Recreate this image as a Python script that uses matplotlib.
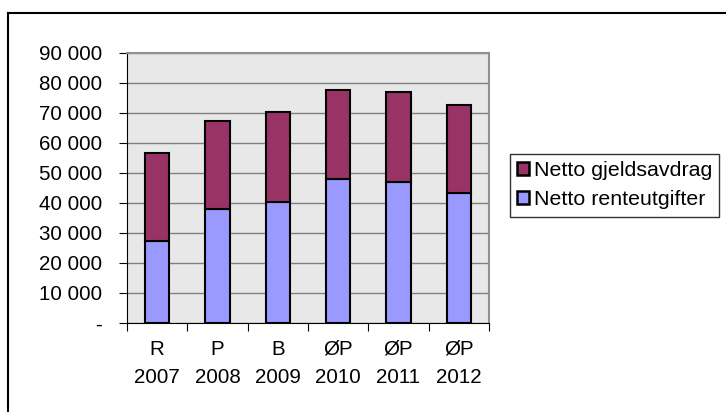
import matplotlib
matplotlib.use("Agg")
import matplotlib.pyplot as plt
from matplotlib.lines import Line2D
import numpy as np

plt.rcParams["font.family"] = ["Liberation Sans", "DejaVu Sans"]

categories = ["R\n2007", "P\n2008", "B\n2009", "ØP\n2010", "ØP\n2011", "ØP\n2012"]
renteutgifter = [27400, 37900, 40400, 47900, 47100, 43200]
gjeldsavdrag = [29300, 29500, 29800, 29700, 30000, 29600]
yticks = [0, 10000, 20000, 30000, 40000, 50000, 60000, 70000, 80000, 90000]
ytick_labels = ["-", "10 000", "20 000", "30 000", "40 000", "50 000",
                "60 000", "70 000", "80 000", "90 000"]

fs = 14.8

fig = plt.figure(figsize=(7.26, 4.12), dpi=100)
ax = fig.add_axes([127 / 726, 1 - 323 / 412, (489 - 127) / 726, (323 - 53) / 412])

x = np.arange(len(categories))
ax.bar(x, renteutgifter, width=0.4, color="#9999FF", edgecolor="black",
       linewidth=1.5, label="Netto renteutgifter", zorder=3)
ax.bar(x, gjeldsavdrag, width=0.4, bottom=renteutgifter, color="#993366",
       edgecolor="black", linewidth=1.5, label="Netto gjeldsavdrag", zorder=3)

ax.set_facecolor("#E8E8E8")
ax.set_xlim(-0.5, len(categories) - 0.5)
ax.set_ylim(0, 90000)
ax.set_yticks(yticks)
ax.set_yticklabels(ytick_labels, fontsize=fs)
ax.yaxis.grid(True, color="#808080", linewidth=1, zorder=1)

ax.set_xticks(np.arange(len(categories) + 1) - 0.5)
ax.set_xticklabels([])
ax.set_xticks(x, minor=True)
ax.set_xticklabels(categories, minor=True, fontsize=fs, linespacing=1.65)
ax.tick_params(axis="x", which="minor", length=0, pad=12)
ax.tick_params(axis="x", which="major", direction="out", length=6, color="black")
ax.tick_params(axis="y", direction="out", length=6, pad=12, color="black")

for side in ["top", "right"]:
    ax.spines[side].set_color("#909090")
    ax.spines[side].set_linewidth(1.5)
ax.spines["left"].set_color("black")
ax.spines["bottom"].set_color("black")

handles = [
    plt.Rectangle((0, 0), 1, 1, facecolor="#993366", edgecolor="black", linewidth=1.8),
    plt.Rectangle((0, 0), 1, 1, facecolor="#9999FF", edgecolor="black", linewidth=1.8),
]
leg = fig.legend(handles, ["Netto gjeldsavdrag", "Netto renteutgifter"],
                 loc="upper left", bbox_to_anchor=(510 / 726, 1 - 154 / 412),
                 fontsize=15.4, frameon=True, fancybox=False, handlelength=0.55,
                 handleheight=0.55, handletextpad=0.2, borderpad=0.35,
                 labelspacing=0.45, borderaxespad=0)
leg.get_frame().set_edgecolor("black")
leg.get_frame().set_linewidth(1)

fig.add_artist(Line2D([8 / 726, 8 / 726], [0, 1 - 13 / 412], color="black",
                      linewidth=1.5, transform=fig.transFigure))
fig.add_artist(Line2D([8 / 726, 1], [1 - 13 / 412, 1 - 13 / 412], color="black",
                      linewidth=1.5, transform=fig.transFigure))

fig.savefig("out.png", dpi=100)
